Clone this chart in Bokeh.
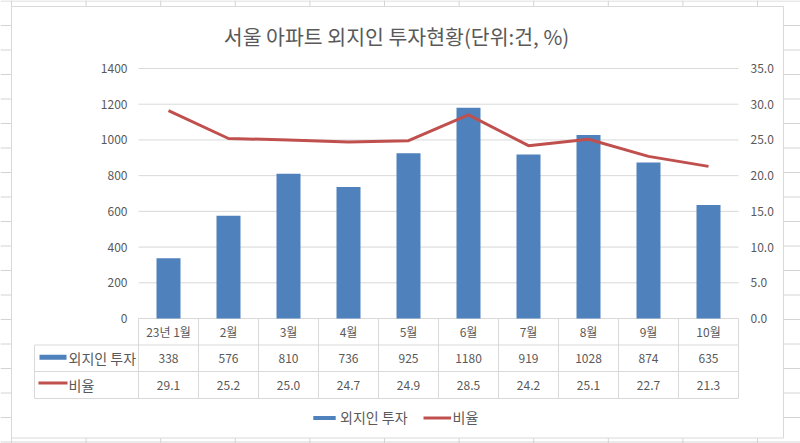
from bokeh.plotting import figure
from bokeh.models import ColumnDataSource, Legend, LegendItem, Range1d
from bokeh.core.properties import value
from bokeh.embed import file_html
from bokeh.resources import INLINE

# ---------------- data ----------------
months = ["23년 1월", "2월", "3월", "4월", "5월", "6월", "7월", "8월", "9월", "10월"]
investments = [338, 576, 810, 736, 925, 1180, 919, 1028, 874, 635]
ratios = [29.1, 25.2, 25.0, 24.7, 24.9, 28.5, 24.2, 25.1, 22.7, 21.3]
left_ticks = [0, 200, 400, 600, 800, 1000, 1200, 1400]
right_ticks = [0, 5, 10, 15, 20, 25, 30, 35]
series_names = ["외지인 투자", "비율"]
title_text = "서울 아파트 외지인 투자현황(단위:건, %)"

# ---------------- layout (image pixels) ----------------
W, H = 800, 443
PAGE_L, PAGE_T = 0, 0
PAGE_R, PAGE_B = PAGE_L + W, PAGE_T + H
CAT0_PX, CAT_W = 168, 60           # centre of first category, category width
ZERO_PY, TOP_PY = 318, 68          # y of value 0 and of top tick
LEFT_MAX, RIGHT_MAX = left_ticks[-1], right_ticks[-1]
PPU = (ZERO_PY - TOP_PY) / LEFT_MAX
SCALE = LEFT_MAX / RIGHT_MAX


def X(px):
    return (px - CAT0_PX) / CAT_W


def Y(py):
    return (ZERO_PY - py) / PPU


FONT = value("Noto Sans CJK KR")
TXT = "#595959"
GRID = "#d9d9d9"
BLUE = "#4f81bd"
RED = "#c0504d"
NUM_SIZE = "12px"

p = figure(width=W, height=H, output_backend="svg", toolbar_location=None,
           x_range=Range1d(X(PAGE_L), X(PAGE_R)),
           y_range=Range1d(Y(PAGE_B), Y(PAGE_T)),
           x_axis_type=None, y_axis_type=None, min_border=0)
p.extra_y_ranges = {"ratio": Range1d(Y(PAGE_B) / SCALE, Y(PAGE_T) / SCALE)}
p.grid.visible = False
p.outline_line_color = None
p.background_fill_color = "white"
p.border_fill_color = "white"

# spreadsheet background lines (outside chart area)
CH_L, CH_R, CH_T, CH_B = 11, 783, 6, 437.5
row_y = [0.5 + 24.5 * k for k in range(19)]
col_x = [11 + 74.6 * k for k in range(11)]
p.segment(x0=[X(PAGE_L)] * len(row_y), x1=[X(PAGE_R)] * len(row_y),
          y0=[Y(v) for v in row_y], y1=[Y(v) for v in row_y],
          line_color="#d4d4d4", line_width=1)
p.segment(x0=[X(v) for v in col_x], x1=[X(v) for v in col_x],
          y0=[Y(PAGE_T)] * len(col_x), y1=[Y(PAGE_B)] * len(col_x),
          line_color="#d4d4d4", line_width=1)

# chart area
p.quad(left=[X(CH_L)], right=[X(CH_R)], top=[Y(CH_T)], bottom=[Y(CH_B)],
       fill_color="white", line_color=GRID, line_width=1)

n = len(months)
xs = list(range(n))
x_left, x_right = -0.5, n - 0.5

# horizontal gridlines
p.segment(x0=[x_left] * len(left_ticks), x1=[x_right] * len(left_ticks),
          y0=left_ticks, y1=left_ticks, line_color=GRID, line_width=1)

# data table lines
ROW1_B, ROW2_B, ROW3_B = 344.5, 371, 398
KEY_L = 34
for yy in (ROW1_B, ROW2_B, ROW3_B):
    p.segment(x0=[X(KEY_L)], x1=[x_right], y0=[Y(yy)], y1=[Y(yy)],
              line_color=GRID, line_width=1)
vx = [i - 0.5 for i in range(n + 1)]
p.segment(x0=vx, x1=vx, y0=[0] * len(vx), y1=[Y(ROW3_B)] * len(vx),
          line_color=GRID, line_width=1)
p.segment(x0=[X(KEY_L)], x1=[X(KEY_L)], y0=[Y(ROW1_B)], y1=[Y(ROW3_B)],
          line_color=GRID, line_width=1)

# bars and line
src = ColumnDataSource(dict(x=xs, inv=investments, ratio=ratios))
bars = p.vbar(x="x", top="inv", width=0.4, bottom=0, source=src,
              fill_color=BLUE, line_color=None)
line = p.line(x="x", y="ratio", source=src, y_range_name="ratio",
              line_color=RED, line_width=3, line_join="round")

# axis tick labels
p.text(x=[X(127)] * len(left_ticks), y=left_ticks, text=[str(t) for t in left_ticks],
       text_align="right", text_baseline="middle", text_font=FONT,
       text_font_size=NUM_SIZE, text_color=TXT)
p.text(x=[X(750)] * len(right_ticks), y=right_ticks,
       text=[f"{t:.1f}" for t in right_ticks], y_range_name="ratio",
       text_align="left", text_baseline="middle", text_font=FONT,
       text_font_size=NUM_SIZE, text_color=TXT)

# table texts
row_centres = [(ZERO_PY + ROW1_B) / 2, (ROW1_B + ROW2_B) / 2, (ROW2_B + ROW3_B) / 2]
p.text(x=xs, y=[Y(row_centres[0])] * n, text=months, text_align="center",
       text_baseline="middle", text_font=FONT, text_font_size=NUM_SIZE, text_color=TXT)
p.text(x=xs, y=[Y(row_centres[1])] * n, text=[str(v) for v in investments],
       text_align="center", text_baseline="middle", text_font=FONT,
       text_font_size=NUM_SIZE, text_color=TXT)
p.text(x=xs, y=[Y(row_centres[2])] * n, text=[f"{v:.1f}" for v in ratios],
       text_align="center", text_baseline="middle", text_font=FONT,
       text_font_size=NUM_SIZE, text_color=TXT)

# table legend keys
p.quad(left=[X(39)], right=[X(66)], top=[Y(row_centres[1] - 3.5)],
       bottom=[Y(row_centres[1] + 1.5)], fill_color=BLUE, line_color=None)
p.segment(x0=[X(38)], x1=[X(67)], y0=[Y(row_centres[2] - 2)], y1=[Y(row_centres[2] - 2)],
          line_color=RED, line_width=3)
p.text(x=[X(68), X(68)], y=[Y(row_centres[1]), Y(row_centres[2])], text=series_names,
       text_align="left", text_baseline="middle", text_font=FONT,
       text_font_size="14px", text_color=TXT)

# title
p.text(x=[X(396)], y=[Y(35)], text=[title_text], text_align="center",
       text_baseline="middle", text_font=FONT, text_font_size="20.5px", text_color=TXT)

# bottom legend
legend = Legend(items=[LegendItem(label=series_names[0], renderers=[bars]),
                       LegendItem(label=series_names[1], renderers=[line])],
                orientation="horizontal", location=(310, 16),
                glyph_width=28, glyph_height=5, label_height=14,
                label_standoff=2, spacing=15, padding=0, margin=0,
                border_line_color=None, background_fill_alpha=0,
                label_text_font="Noto Sans CJK KR", label_text_font_size="14px",
                label_text_color=TXT)
p.add_layout(legend)

open("out.html", "w").write(file_html(p, INLINE))
